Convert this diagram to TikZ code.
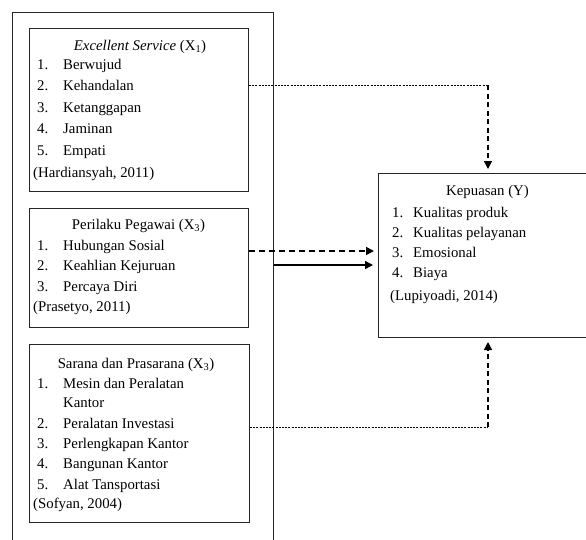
\documentclass[tikz,border=0pt]{standalone}
\usepackage{fontspec}
\setmainfont{Liberation Serif}
\usetikzlibrary{arrows.meta, positioning}

\begin{document}
\begin{tikzpicture}[x=1pt, y=-1pt,
  box/.style={draw=black!85, line width=1pt, anchor=north west, inner sep=0pt},
  txt/.style={anchor=base west, inner sep=0pt, font=\fontsize{14.8}{16}\selectfont},
  head/.style={txt, anchor=base},
  dotline/.style={line width=0.7pt, dash pattern=on 2pt off 1.2pt},
  dasharrow/.style={line width=1.4pt, dash pattern=on 5pt off 3.5pt, -{Triangle[length=8pt,width=8pt]}, shorten >=4pt},
  fullarrow/.style={line width=1.4pt, -{Triangle[length=8pt,width=8pt]}, shorten >=5pt}]

\path[use as bounding box, clip] (0,0) rectangle (586,539);

% Frames
\node[box, line width=1.2pt, minimum width=261, minimum height=545] (frame) at (12,12) {};
\node[box, minimum width=219, minimum height=163] (exc) at (29,28) {};
\node[box, minimum width=219, minimum height=119] (pri) at (29,208) {};
\node[box, minimum width=220, minimum height=178] (sar) at (29,344) {};
\node[box, minimum width=222, minimum height=164] (kep) at (378,173) {};

% Excellent service
\node[head] (exctitle) at (140,50) {\textit{Excellent Service} (X\textsubscript{1})};
\foreach \t [count=\i] in {Berwujud, Kehandalan, Ketanggapan, Jaminan, Empati} {
  \node[txt] (excnum\i) at (37,47.5+21.5*\i) {\i.};
  \node[txt] (excitem\i) at (63,47.5+21.5*\i) {\t};
}
\node[txt] (exccite) at (33,177) {(Hardiansyah, 2011)};

% Perilaku pegawai
\node[head] (prititle) at (138.5,229) {Perilaku Pegawai (X\textsubscript{3})};
\foreach \t [count=\i] in {Hubungan Sosial, Keahlian Kejuruan, Percaya Diri} {
  \node[txt] (prinum\i) at (37,229.5+20.5*\i) {\i.};
  \node[txt] (priitem\i) at (63,229.5+20.5*\i) {\t};
}
\node[txt] (pricite) at (33,311) {(Prasetyo, 2011)};

% Sarana dan prasarana
\node[head] (sartitle) at (136,368) {Sarana dan Prasarana (X\textsubscript{3})};
\node[txt] (sarnum1) at (37,388) {1.};
\node[txt] (saritem1) at (63,388) {Mesin dan Peralatan};
\node[txt] (saritem1b) at (63,407) {Kantor};
\foreach \t [count=\i from 2] in {Peralatan Investasi, Perlengkapan Kantor, Bangunan Kantor, Alat Tansportasi} {
  \node[txt] (sarnum\i) at (37,387.5+20.3*\i) {\i.};
  \node[txt] (saritem\i) at (63,387.5+20.3*\i) {\t};
}
\node[txt] (sarcite) at (33,508) {(Sofyan, 2004)};

% Kepuasan
\node[head] (keptitle) at (487.5,195) {Kepuasan (Y)};
\foreach \t [count=\i] in {Kualitas produk, Kualitas pelayanan, Emosional, Biaya} {
  \node[txt] (kepnum\i) at (392,196.7+20.3*\i) {\i.};
  \node[txt] (kepitem\i) at (413,196.7+20.3*\i) {\t};
}
\node[txt] (kepcite) at (390,300) {(Lupiyoadi, 2014)};

% Connectors
\coordinate (topbend) at (488,85);
\coordinate (botbend) at (488,427);
\coordinate (dashlvl) at (300,251);
\coordinate (solidlvl) at (300,265);

\draw[dotline] (exc.east |- topbend) -- (topbend);
\draw[dasharrow] (topbend) -- (topbend |- kep.north);
\draw[dasharrow, line width=1.6pt, dash pattern=on 6pt off 4pt] (pri.east |- dashlvl) -- (kep.west |- dashlvl);
\draw[fullarrow] (frame.east |- solidlvl) -- (kep.west |- solidlvl);
\draw[dotline] (sar.east |- botbend) -- (botbend);
\draw[dasharrow] (botbend) -- (botbend |- kep.south);

\end{tikzpicture}
\end{document}
